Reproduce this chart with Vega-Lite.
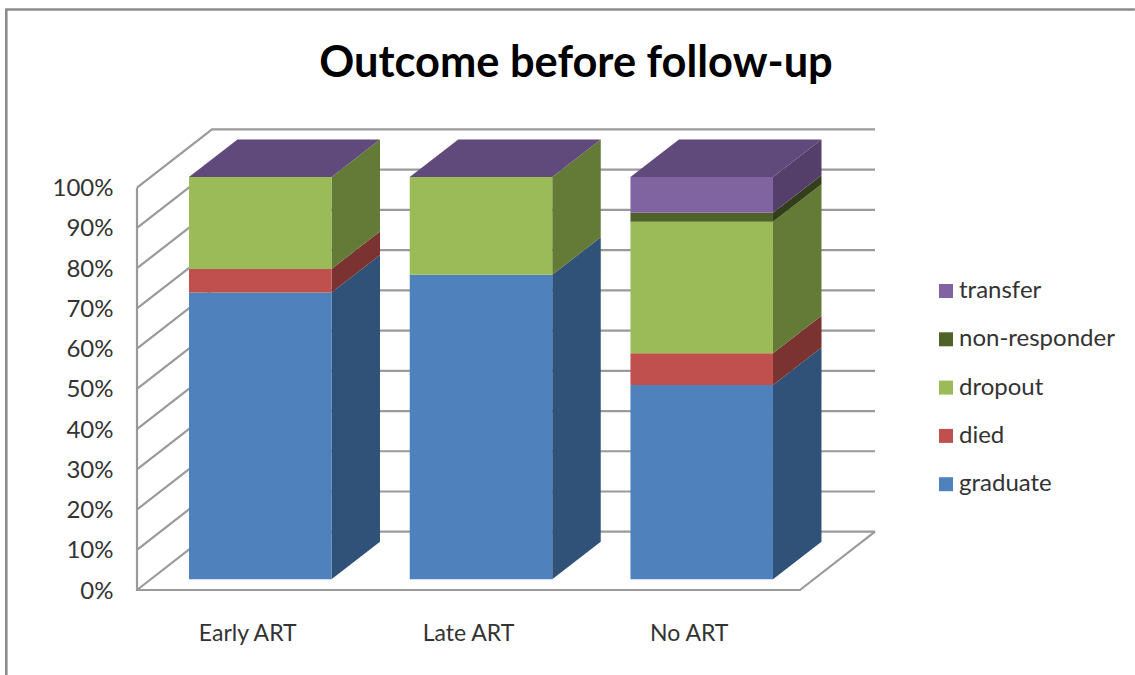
{
  "$schema": "https://vega.github.io/schema/vega-lite/v6.json",
  "width": 738,
  "height": 461,
  "autosize": "none",
  "padding": {"left": 137, "top": 129, "right": 260, "bottom": 85},
  "background": "white",
  "view": {"stroke": null},
  "title": {
    "text": "Outcome before follow-up",
    "font": "Lato",
    "fontWeight": "bold",
    "fontSize": 43.4,
    "color": "#000000",
    "anchor": "middle",
    "frame": "group",
    "dx": 70,
    "offset": -82
  },
  "resolve": {"axis": {"x": "independent", "y": "independent"}, "legend": {"color": "independent", "fill": "independent"}},
  "datasets": {
    "outcomes": [
      {"cat": "Early ART", "slot": 1, "series": "graduate", "rank": 1, "value": 71.3},
      {"cat": "Early ART", "slot": 1, "series": "died", "rank": 2, "value": 5.85},
      {"cat": "Early ART", "slot": 1, "series": "dropout", "rank": 3, "value": 22.85},
      {"cat": "Late ART", "slot": 2, "series": "graduate", "rank": 1, "value": 75.7},
      {"cat": "Late ART", "slot": 2, "series": "dropout", "rank": 3, "value": 24.3},
      {"cat": "No ART", "slot": 3, "series": "graduate", "rank": 1, "value": 48.3},
      {"cat": "No ART", "slot": 3, "series": "died", "rank": 2, "value": 7.9},
      {"cat": "No ART", "slot": 3, "series": "dropout", "rank": 3, "value": 32.7},
      {"cat": "No ART", "slot": 3, "series": "non-responder", "rank": 4, "value": 2.2},
      {"cat": "No ART", "slot": 3, "series": "transfer", "rank": 5, "value": 8.9}
    ],
    "sideFaces": [
      {"face": "e1", "series": "graduate", "x": 1.3228, "low": 0, "high": 71.3},
      {"face": "e1", "series": "graduate", "x": 1.5425, "low": 9.33, "high": 80.63},
      {"face": "e2", "series": "died", "x": 1.3228, "low": 71.3, "high": 77.15},
      {"face": "e2", "series": "died", "x": 1.5425, "low": 80.63, "high": 86.48},
      {"face": "e3", "series": "dropout", "x": 1.3228, "low": 77.15, "high": 100},
      {"face": "e3", "series": "dropout", "x": 1.5425, "low": 86.48, "high": 109.33},
      {"face": "l1", "series": "graduate", "x": 2.3228, "low": 0, "high": 75.7},
      {"face": "l1", "series": "graduate", "x": 2.5425, "low": 9.33, "high": 85.03},
      {"face": "l3", "series": "dropout", "x": 2.3228, "low": 75.7, "high": 100},
      {"face": "l3", "series": "dropout", "x": 2.5425, "low": 85.03, "high": 109.33},
      {"face": "n1", "series": "graduate", "x": 3.3228, "low": 0, "high": 48.3},
      {"face": "n1", "series": "graduate", "x": 3.5425, "low": 9.33, "high": 57.63},
      {"face": "n2", "series": "died", "x": 3.3228, "low": 48.3, "high": 56.2},
      {"face": "n2", "series": "died", "x": 3.5425, "low": 57.63, "high": 65.53},
      {"face": "n3", "series": "dropout", "x": 3.3228, "low": 56.2, "high": 88.9},
      {"face": "n3", "series": "dropout", "x": 3.5425, "low": 65.53, "high": 98.23},
      {"face": "n4", "series": "non-responder", "x": 3.3228, "low": 88.9, "high": 91.1},
      {"face": "n4", "series": "non-responder", "x": 3.5425, "low": 98.23, "high": 100.43},
      {"face": "n5", "series": "transfer", "x": 3.3228, "low": 91.1, "high": 100},
      {"face": "n5", "series": "transfer", "x": 3.5425, "low": 100.43, "high": 109.33}
    ],
    "topFaces": [
      {"face": "e", "x": 0.6772, "low": 100, "high": 100},
      {"face": "e", "x": 0.8969, "low": 100, "high": 109.33},
      {"face": "e", "x": 1.3228, "low": 100, "high": 109.33},
      {"face": "e", "x": 1.5425, "low": 109.33, "high": 109.33},
      {"face": "l", "x": 1.6772, "low": 100, "high": 100},
      {"face": "l", "x": 1.8969, "low": 100, "high": 109.33},
      {"face": "l", "x": 2.3228, "low": 100, "high": 109.33},
      {"face": "l", "x": 2.5425, "low": 109.33, "high": 109.33},
      {"face": "n", "x": 2.6772, "low": 100, "high": 100},
      {"face": "n", "x": 2.8969, "low": 100, "high": 109.33},
      {"face": "n", "x": 3.3228, "low": 100, "high": 109.33},
      {"face": "n", "x": 3.5425, "low": 109.33, "high": 109.33}
    ],
    "wallLines": [
      {"line": "g0", "step": 0, "x": 0.4417, "y": 0},
      {"line": "g0", "step": 1, "x": 0.7815, "y": 14.49},
      {"line": "g0", "step": 2, "x": 3.785, "y": 14.49},
      {"line": "g10", "step": 0, "x": 0.4417, "y": 10},
      {"line": "g10", "step": 1, "x": 0.7815, "y": 24.49},
      {"line": "g10", "step": 2, "x": 3.785, "y": 24.49},
      {"line": "g20", "step": 0, "x": 0.4417, "y": 20},
      {"line": "g20", "step": 1, "x": 0.7815, "y": 34.49},
      {"line": "g20", "step": 2, "x": 3.785, "y": 34.49},
      {"line": "g30", "step": 0, "x": 0.4417, "y": 30},
      {"line": "g30", "step": 1, "x": 0.7815, "y": 44.49},
      {"line": "g30", "step": 2, "x": 3.785, "y": 44.49},
      {"line": "g40", "step": 0, "x": 0.4417, "y": 40},
      {"line": "g40", "step": 1, "x": 0.7815, "y": 54.49},
      {"line": "g40", "step": 2, "x": 3.785, "y": 54.49},
      {"line": "g50", "step": 0, "x": 0.4417, "y": 50},
      {"line": "g50", "step": 1, "x": 0.7815, "y": 64.49},
      {"line": "g50", "step": 2, "x": 3.785, "y": 64.49},
      {"line": "g60", "step": 0, "x": 0.4417, "y": 60},
      {"line": "g60", "step": 1, "x": 0.7815, "y": 74.49},
      {"line": "g60", "step": 2, "x": 3.785, "y": 74.49},
      {"line": "g70", "step": 0, "x": 0.4417, "y": 70},
      {"line": "g70", "step": 1, "x": 0.7815, "y": 84.49},
      {"line": "g70", "step": 2, "x": 3.785, "y": 84.49},
      {"line": "g80", "step": 0, "x": 0.4417, "y": 80},
      {"line": "g80", "step": 1, "x": 0.7815, "y": 94.49},
      {"line": "g80", "step": 2, "x": 3.785, "y": 94.49},
      {"line": "g90", "step": 0, "x": 0.4417, "y": 90},
      {"line": "g90", "step": 1, "x": 0.7815, "y": 104.49},
      {"line": "g90", "step": 2, "x": 3.785, "y": 104.49},
      {"line": "g100", "step": 0, "x": 0.4417, "y": 100},
      {"line": "g100", "step": 1, "x": 0.7815, "y": 114.49},
      {"line": "g100", "step": 2, "x": 3.785, "y": 114.49},
      {"line": "axis", "step": 0, "x": 0.4417, "y": 100},
      {"line": "axis", "step": 1, "x": 0.4417, "y": 0},
      {"line": "axis", "step": 2, "x": 3.445, "y": 0},
      {"line": "axis", "step": 3, "x": 3.785, "y": 14.49}
    ],
    "frameLines": [
      {"line": "frame", "step": 0, "x": -0.1504, "y": -21.1},
      {"line": "frame", "step": 1, "x": -0.1504, "y": 144.3},
      {"line": "frame", "step": 2, "x": 4.962, "y": 144.3}
    ]
  },
  "layer": [
    {
      "data": {"name": "frameLines"},
      "mark": {"type": "line", "stroke": "#8c8c8c", "strokeWidth": 2.6, "clip": false},
      "encoding": {
        "x": {"field": "x", "type": "quantitative", "scale": {"domain": [0.4417, 3.785], "nice": false, "zero": false, "padding": 0}, "axis": null},
        "y": {"field": "y", "type": "quantitative", "scale": {"domain": [0, 114.6], "nice": false, "zero": false}, "axis": null},
        "detail": {"field": "line"},
        "order": {"field": "step"}
      }
    },
    {
      "data": {"name": "wallLines"},
      "mark": {"type": "line", "stroke": "#9a9a9a", "strokeWidth": 2.2},
      "encoding": {
        "x": {"field": "x", "type": "quantitative", "axis": null},
        "y": {"field": "y", "type": "quantitative", "axis": null},
        "detail": {"field": "line"},
        "order": {"field": "step"}
      }
    },
    {
      "data": {"name": "sideFaces"},
      "mark": {"type": "area", "yOffset": -10.7, "y2Offset": -10.7, "opacity": 1},
      "encoding": {
        "x": {"field": "x", "type": "quantitative", "axis": null},
        "y": {"field": "low", "type": "quantitative", "axis": null},
        "y2": {"field": "high"},
        "detail": {"field": "face"},
        "fill": {
          "field": "series",
          "type": "nominal",
          "legend": null,
          "scale": {
            "domain": ["transfer", "non-responder", "dropout", "died", "graduate"],
            "range": ["#533f6a", "#333f1a", "#647a37", "#7a3330", "#305279"]
          }
        }
      }
    },
    {
      "data": {"name": "topFaces"},
      "mark": {"type": "area", "fill": "#604a7b", "yOffset": -10.7, "y2Offset": -10.7, "opacity": 1},
      "encoding": {
        "x": {"field": "x", "type": "quantitative", "axis": null},
        "y": {"field": "low", "type": "quantitative", "axis": null},
        "y2": {"field": "high"},
        "detail": {"field": "face"}
      }
    },
    {
      "data": {"name": "outcomes"},
      "mark": {"type": "bar", "orient": "vertical", "width": 142.5, "yOffset": -10.7, "y2Offset": -10.7, "opacity": 1},
      "encoding": {
        "x": {
          "field": "slot",
          "type": "quantitative",
          "axis": {
            "values": [1, 2, 3],
            "labelExpr": "datum.value === 1 ? 'Early ART' : datum.value === 2 ? 'Late ART' : 'No ART'",
            "title": null,
            "domain": false,
            "ticks": false,
            "grid": false,
            "labelFont": "Lato",
            "labelFontSize": 23,
            "labelColor": "#333333",
            "labelPadding": 32,
            "labelOffset": -13
          }
        },
        "y": {
          "field": "value",
          "type": "quantitative",
          "stack": "zero",
          "axis": {
            "values": [0, 10, 20, 30, 40, 50, 60, 70, 80, 90, 100],
            "labelExpr": "datum.value + '%'",
            "title": null,
            "domain": false,
            "ticks": false,
            "grid": false,
            "labelFont": "Lato",
            "labelFontSize": 24,
            "labelColor": "#333333",
            "labelPadding": 24,
            "labelOffset": 1
          }
        },
        "order": {"field": "rank", "type": "quantitative"},
        "color": {
          "field": "series",
          "type": "nominal",
          "scale": {
            "domain": ["transfer", "non-responder", "dropout", "died", "graduate"],
            "range": ["#8064a2", "#4f6228", "#9bbb59", "#c0504d", "#4f81bd"]
          },
          "legend": {
            "orient": "none",
            "legendX": 797,
            "legendY": 150,
            "title": null,
            "symbolType": "square",
            "symbolSize": 196,
            "symbolStrokeWidth": 0,
            "symbolOpacity": 1,
            "labelFont": "Lato",
            "labelFontSize": 24,
            "labelColor": "#333333",
            "labelOffset": 1,
            "rowPadding": 24.3,
            "labelLimit": 220,
            "padding": 0
          }
        }
      }
    }
  ]
}
